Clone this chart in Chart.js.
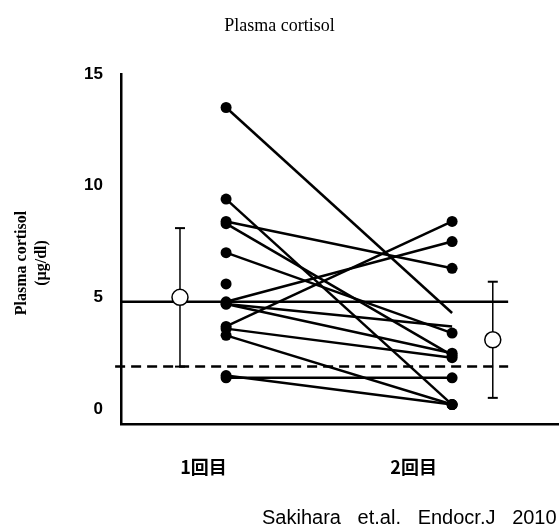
<!DOCTYPE html>
<html><head><meta charset="utf-8">
<script src="https://cdn.jsdelivr.net/npm/chart.js@4.4.0/dist/chart.umd.min.js"></script>
<style>html,body{margin:0;padding:0;background:#fff;}</style>
</head><body>
<canvas id="c" width="559" height="527"></canvas>
<script>
// ---- data ----
const chartTitle = 'Plasma cortisol';
const yTitle = ['Plasma cortisol', '(µg/dl)'];
const groups = ['1回目', '2回目'];
const yTicks = [0, 5, 10, 15];
const visit1 = [13.5, 9.4, 8.4, 8.3, 7.0, 5.6, 4.8, 4.7, 4.7, 3.7, 3.6, 3.3, 1.4, 1.5];
const visit2 = [4.3, 0.2, 6.3, 2.4, 3.4, null, 7.5, 3.7, 2.5, 8.4, 2.3, 0.2, 1.4, 0.2];
const hiddenEnd = [0, 7];
const meanValues = [5.0, 3.1];
const sdLow = [1.9, 0.5];
const sdHigh = [8.1, 5.7];
const refSolid = 4.8;
const refDashed = 1.9;
const source = 'Sakihara   et.al.   Endocr.J   2010';

// ---- layout constants (not data) ----
const X_MIN = 0.535, X_MAX = 2.473, Y_MIN = -0.67, Y_MAX = 15;
const MEAN_OFFSET = [-0.204, 0.18];
const LABEL_OFFSET = [-0.1, -0.17];
const REF_START = [X_MIN, 0.509];
const REF_END = 2.248;

const datasets = [];
visit1.forEach((v, i) => {
  datasets.push({
    data: [{x: 1, y: v}, {x: 2, y: visit2[i]}],
    showLine: true, borderColor: '#000', borderWidth: 2.5,
    pointRadius: hiddenEnd.includes(i) ? [5.5, 0] : 5.5,
    pointBackgroundColor: '#000', pointBorderWidth: 0, order: 2
  });
});
datasets.push({
  data: [{x: REF_START[0], y: refSolid}, {x: REF_END, y: refSolid}],
  showLine: true, borderColor: '#000', borderWidth: 2.5, pointRadius: 0, order: 3
});
datasets.push({
  data: [{x: REF_START[1], y: refDashed}, {x: REF_END, y: refDashed}],
  showLine: true, borderColor: '#000', borderWidth: 2.5, borderDash: [10, 6], pointRadius: 0, order: 3, clip: false
});
meanValues.forEach((m, g) => {
  const xv = g + 1 + MEAN_OFFSET[g];
  datasets.push({
    data: [{x: xv, y: sdLow[g]}, {x: xv, y: sdHigh[g]}],
    showLine: true, borderColor: '#000', borderWidth: 1.5,
    pointStyle: 'line', pointRadius: 5, pointBorderColor: '#000', pointBorderWidth: 2, order: 1
  });
  datasets.push({
    data: [{x: xv, y: m}],
    showLine: false, pointRadius: 8, pointBackgroundColor: '#fff',
    pointBorderColor: '#000', pointBorderWidth: 1.5, order: 0
  });
});

const extraText = {
  id: 'extraText',
  afterDraw(chart) {
    const ctx = chart.ctx;
    ctx.save();
    ctx.fillStyle = '#000';
    ctx.font = 'bold 16px "Liberation Serif"';
    ctx.textAlign = 'center';
    ctx.textBaseline = 'middle';
    [22, 42].forEach((xp, k) => {
      ctx.save();
      ctx.translate(xp, 263);
      ctx.rotate(-Math.PI / 2);
      ctx.fillText(yTitle[k], 0, 0);
      ctx.restore();
    });
    ctx.font = '20px "Liberation Sans"';
    ctx.textAlign = 'left';
    ctx.textBaseline = 'alphabetic';
    ctx.fillText(source, 262, 524);
    ctx.restore();
  }
};

new Chart(document.getElementById('c'), {
  type: 'scatter',
  data: {datasets},
  plugins: [extraText],
  options: {
    responsive: false, animation: false, devicePixelRatio: 1,
    layout: {padding: 0, autoPadding: false},
    plugins: {
      legend: {display: false}, tooltip: {enabled: false},
      title: {display: true, text: chartTitle, color: '#000',
        font: {family: '"Liberation Serif"', size: 18, weight: 'normal'},
        padding: {top: 15, bottom: 37.4}}
    },
    scales: {
      x: {
        type: 'linear', min: X_MIN, max: X_MAX,
        grid: {display: false, drawTicks: false},
        border: {color: '#000', width: 2.5},
        afterBuildTicks: s => { s.ticks = groups.map((g, i) => ({value: i + 1 + LABEL_OFFSET[i]})); },
        ticks: {callback: (v, i) => groups[i], color: '#000', padding: 32, maxRotation: 0, autoSkip: false,
          font: {family: '"Noto Sans CJK JP"', size: 18, weight: 'bold'}},
        afterFit: s => { s.height = 103; s.paddingLeft = 0; s.paddingRight = 0; }
      },
      y: {
        type: 'linear', min: Y_MIN, max: Y_MAX,
        grid: {display: false, drawTicks: false},
        border: {color: '#000', width: 2.5},
        afterBuildTicks: s => { s.ticks = yTicks.map(v => ({value: v})); },
        ticks: {color: '#000', padding: 18, font: {family: '"Liberation Sans"', size: 17, weight: 'bold'}},
        afterFit: s => { s.width = 121; }
      }
    }
  }
});
</script>
</body></html>
